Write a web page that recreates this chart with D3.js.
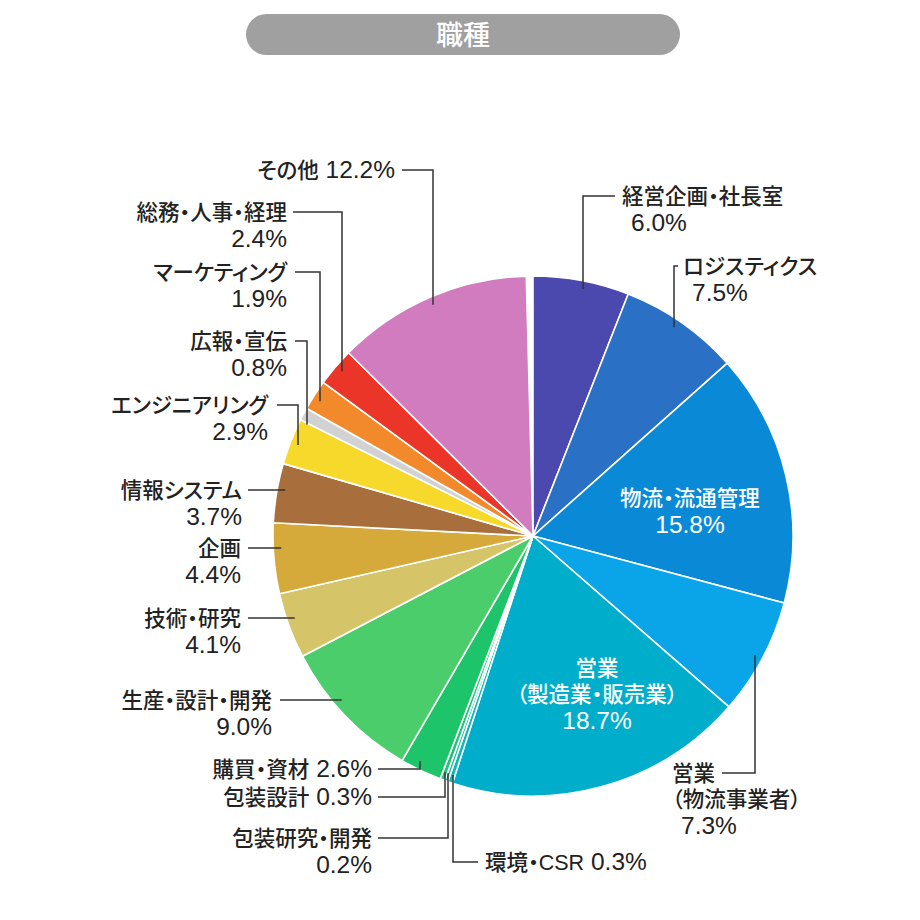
<!DOCTYPE html>
<html>
<head>
<meta charset="utf-8">
<script src="https://cdn.jsdelivr.net/npm/d3@7"></script>
<style>
  body { margin: 0; background: #fff; }
  text { font-family: "Liberation Sans", "Noto Sans CJK JP", sans-serif; }
  .lbl { font-feature-settings: "palt" 1; }
</style>
</head>
<body>
<div id="chart"></div>
<script>
// data, clockwise from 12 o'clock
var categories = ["経営企画・社長室", "ロジスティクス", "物流・流通管理", "営業\n（物流事業者）",
    "営業\n（製造業・販売業）", "環境・CSR", "包装研究・開発", "包装設計", "購買・資材",
    "生産・設計・開発", "技術・研究", "企画", "情報システム", "エンジニアリング",
    "広報・宣伝", "マーケティング", "総務・人事・経理", "その他"];
var shares = [6.0, 7.5, 15.8, 7.3, 18.7, 0.3, 0.2, 0.3, 2.6, 9.0, 4.1, 4.4, 3.7, 2.9, 0.8, 1.9, 2.4, 12.2];
var colors = ["#4b49ad", "#2a70c4", "#0a8ad6", "#0aa4e8", "#00aecb", "#10b6bc", "#1cbd9c", "#22c27c",
    "#1ec46a", "#4ccd6c", "#d6c468", "#d5a93a", "#a86e3c", "#f6d92a", "#d2d2d2", "#f28a2c", "#ea3528", "#d07cbe"];
var title = "職種";

// label placement (x, y = centre of first line)
var labelLayout = [
    {x: 622, y: 196, anchor: "start", ls: 615, elbowX: 583, half: -1},
    {x: 683, y: 266, anchor: "start", ls: 678, elbowX: 674, half: -1},
    {x: 690, y: 498, inside: true},
    {x: 672, y: 773, anchor: "start", ls: 722, elbowX: 755, half: 1},
    {x: 597, y: 668, inside: true},
    {x: 485, y: 862, anchor: "start", inline: true, ls: 478, elbowX: 453, half: 1},
    {x: 372, y: 838, anchor: "end", ls: 378, elbowX: 448, half: 1},
    {x: 372, y: 797, anchor: "end", inline: true, ls: 378, elbowX: 445, half: 1},
    {x: 372, y: 769, anchor: "end", inline: true, ls: 378, elbowX: 420, half: 1},
    {x: 272, y: 700, anchor: "end", ls: 280},
    {x: 241, y: 618, anchor: "end", ls: 248},
    {x: 241, y: 548, anchor: "end", ls: 248},
    {x: 242, y: 490, anchor: "end", ls: 248},
    {x: 268, y: 405, anchor: "end", ls: 277, elbowX: 298, half: -1},
    {x: 287, y: 341, anchor: "end", ls: 295, elbowX: 307, half: -1},
    {x: 287, y: 272, anchor: "end", ls: 295, elbowX: 320, half: -1},
    {x: 287, y: 212, anchor: "end", ls: 293, elbowX: 342, half: -1},
    {x: 395, y: 170, anchor: "end", inline: true, ls: 402, elbowX: 433, half: -1}
];

var width = 920, height = 920;
var cx = 533, cy = 536, radius = 260;
var lineHeight = 26;

var svg = d3.select("#chart").append("svg")
    .attr("width", width)
    .attr("height", height);

// title pill
var head = svg.append("g");
head.append("rect")
    .attr("x", 246).attr("y", 14)
    .attr("width", 434).attr("height", 41)
    .attr("rx", 20.5)
    .attr("fill", "#a0a0a0");
head.append("text")
    .attr("x", 463).attr("y", 35)
    .attr("dy", "0.36em")
    .attr("text-anchor", "middle")
    .attr("fill", "#fff")
    .attr("font-size", 27)
    .attr("font-weight", 500)
    .text(title);

var data = categories.map(function(c, i) { return {name: c, value: shares[i], color: colors[i], lay: labelLayout[i]}; });

var pie = d3.pie()
    .sort(null)
    .value(function(d) { return d.value; })
    .startAngle(0)
    .endAngle(2 * Math.PI - 0.026);

var arc = d3.arc().innerRadius(0).outerRadius(radius);

var g = svg.append("g").attr("transform", "translate(" + cx + "," + cy + ")");

g.selectAll("path.slice")
    .data(pie(data))
    .enter().append("path")
    .attr("class", "slice")
    .attr("d", arc)
    .attr("fill", function(d) { return d.data.color; })
    .attr("stroke", "#fff")
    .attr("stroke-width", 1.6)
    .attr("stroke-linejoin", "round");

// leader lines end just inside the rim
var rEnd = radius - 8;
var leaders = svg.append("g")
    .attr("fill", "none")
    .attr("stroke", "#333")
    .attr("stroke-width", 1.5);

data.forEach(function(d) {
    var L = d.lay;
    if (L.inside) return;
    var pts;
    if (L.elbowX !== undefined) {
        var dx = L.elbowX - cx;
        var endY = cy + L.half * Math.sqrt(rEnd * rEnd - dx * dx);
        pts = [[L.ls, L.y], [L.elbowX, L.y], [L.elbowX, endY]];
    } else {
        var dy = L.y - cy;
        var endX = cx - Math.sqrt(rEnd * rEnd - dy * dy);
        pts = [[L.ls, L.y], [endX, L.y]];
    }
    leaders.append("path").attr("d", d3.line()(pts));
});

// labels
var labels = svg.append("g");
data.forEach(function(d) {
    var L = d.lay;
    var nameLines = d.name.split("\n");
    var valueText = d.value.toFixed(1) + "%";
    var t = labels.append("text")
        .attr("class", "lbl")
        .attr("text-anchor", L.inside ? "middle" : L.anchor)
        .attr("fill", L.inside ? "#fff" : "#222")
        .attr("font-weight", 500);
    var lines = nameLines.map(function(s) { return {s: s, value: false}; });
    if (L.inline) {
        lines[lines.length - 1].inlineValue = valueText;
    } else {
        lines.push({s: valueText, value: true});
    }
    lines.forEach(function(ln, k) {
        t.append("tspan")
            .attr("x", L.x + (ln.value && L.anchor === "start" ? 9 : 0))
            .attr("y", L.y + k * lineHeight)
            .attr("dy", "0.36em")
            .attr("font-size", ln.value ? 24.5 : 21.5)
            .text(ln.s);
        if (ln.inlineValue) {
            t.append("tspan")
                .attr("font-size", 24.5)
                .text(" " + ln.inlineValue);
        }
    });
});
</script>
</body>
</html>
